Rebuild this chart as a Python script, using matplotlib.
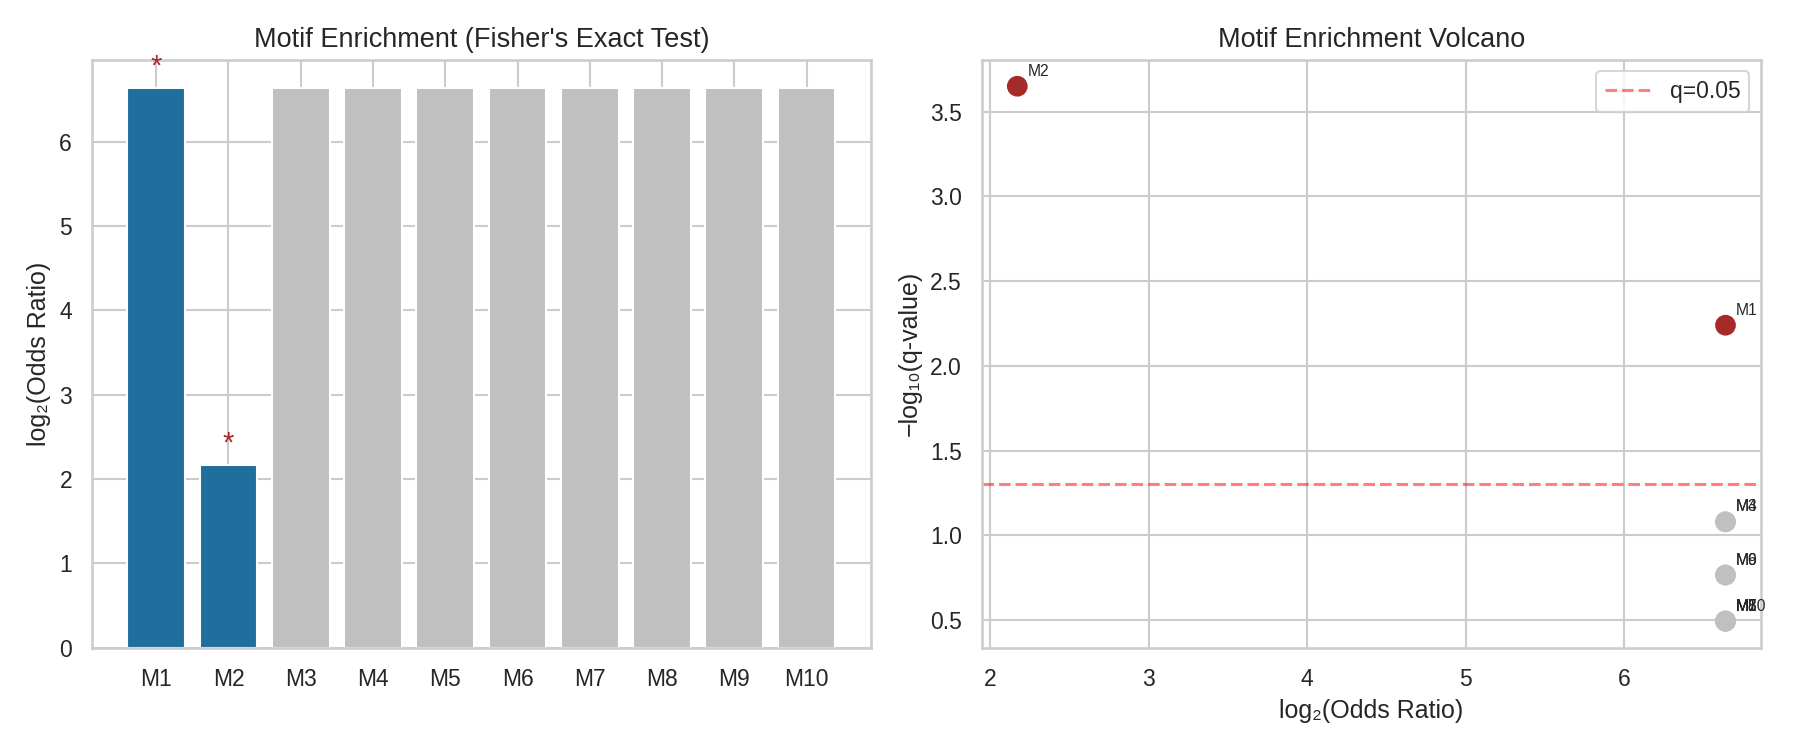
import numpy as np
import matplotlib
matplotlib.use("Agg")
import matplotlib.pyplot as plt
import seaborn as sns

sns.set_theme(style="whitegrid")
plt.rcParams['font.family'] = ['Liberation Sans', 'DejaVu Sans']

motifs = ['M1', 'M2', 'M3', 'M4', 'M5', 'M6', 'M7', 'M8', 'M9', 'M10']
log2_or = [6.64, 2.17, 6.64, 6.64, 6.64, 6.64, 6.64, 6.64, 6.64, 6.64]
neglog_q = [2.24, 3.65, 1.08, 1.08, 0.494, 0.766, 0.494, 0.494, 0.766, 0.494]
significant = [True, True, False, False, False, False, False, False, False, False]
q_thresh = 0.05

fig, (ax1, ax2) = plt.subplots(1, 2, figsize=(12, 5), dpi=150)

# bar chart
bar_colors = ['#1f6e9e' if s else 'silver' for s in significant]
x = np.arange(len(motifs))
ax1.bar(x, log2_or, color=bar_colors)
for i, s in enumerate(significant):
    if s:
        ax1.text(x[i], log2_or[i] + 0.08, '*', ha='center', va='bottom',
                 color='brown', fontsize=14)
ax1.set_xticks(x)
ax1.set_xticklabels(motifs)
ax1.set_ylabel('log\u2082(Odds Ratio)')
ax1.set_title("Motif Enrichment (Fisher's Exact Test)", fontsize=13)

# volcano
pt_colors = ['brown' if s else 'silver' for s in significant]
ax2.scatter(log2_or, neglog_q, c=pt_colors, s=80)
for i, m in enumerate(motifs):
    ax2.annotate(m, (log2_or[i], neglog_q[i]), xytext=(5, 5),
                 textcoords='offset points', fontsize=7.5)
ax2.axhline(-np.log10(q_thresh), color='red', linestyle='--', alpha=0.5,
            label='q=0.05')
ax2.set_xlabel('log\u2082(Odds Ratio)')
ax2.set_ylabel('\u2212log\u2081\u2080(q-value)')
ax2.set_title('Motif Enrichment Volcano', fontsize=13)
ax2.legend(loc='upper right')

plt.tight_layout()
plt.savefig('out.png')
